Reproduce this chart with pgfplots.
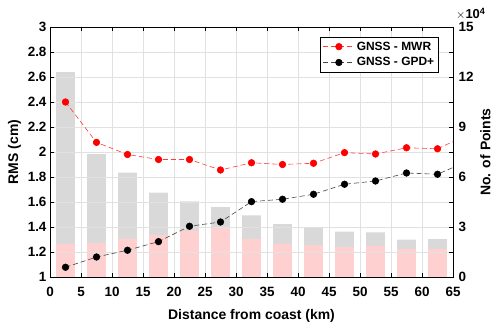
\documentclass[border=0pt]{standalone}
\usepackage{fontspec}
\setmainfont{Liberation Sans}
\usepackage{pgfplots}
\usepackage{pgfplotstable}
\pgfplotsset{compat=1.18}
\usetikzlibrary{calc}

\definecolor{barpink}{RGB}{255,208,208}
\definecolor{bargray}{RGB}{217,217,217}
\definecolor{gridc}{RGB}{225,225,225}
\definecolor{linered}{RGB}{255,60,60}
\definecolor{linegray}{RGB}{70,70,70}

% number of points, in units of 10^4
\pgfplotstableread{
x     total  sub
2.5   12.30  1.98
7.5    7.38  2.04
12.5   6.26  2.30
17.5   5.06  2.52
22.5   4.54  2.78
27.5   4.20  2.93
32.5   3.70  2.28
37.5   3.17  2.00
42.5   2.94  1.92
47.5   2.72  1.80
52.5   2.68  1.88
57.5   2.25  1.67
62.5   2.28  1.67
}\counts

\pgfplotsset{
  common/.style={
    scale only axis, width=403bp, height=250bp,
    xmin=0, xmax=65, xtick={0,5,...,65},
    tick align=inside, major tick length=4bp, minor tick length=4bp,
    tick style={black, line width=0.5pt},
    axis line style={black, line width=0.6pt},
    /pgf/number format/assume math mode=true,
    tick label style={font=\bfseries\fontsize{13.5}{14}\selectfont},
    xticklabel style={yshift=-7bp},
    label style={font=\bfseries\fontsize{14}{15}\selectfont},
  }
}

\begin{document}
\begin{tikzpicture}
\begin{axis}[common, name=A,
  ymin=0, ymax=15, ytick={0,3,...,15}, minor ytick={1.5,4.5,...,13.5},
  ytick pos=right, xtick pos=both, yticklabel pos=right,
  yticklabel style={xshift=2bp},
  grid=both, grid style={gridc, line width=0.5pt}, minor grid style={gridc, line width=0.5pt},
  axis on top,
  xlabel={Distance from coast (km)},
  xlabel style={yshift=-5bp},
  ylabel={No. of Points},
  ylabel style={font=\bfseries\fontsize{14}{15}\selectfont}]
\addplot[ybar, bar width=3, bar shift=0pt, fill=bargray, draw=none] table[x=x, y=total] {\counts};
\addplot[ybar, bar width=3, bar shift=0pt, fill=barpink, draw=none] table[x=x, y=sub] {\counts};
\end{axis}
\begin{axis}[common,
  ymin=1, ymax=3, ytick={1,1.2,...,3.01},
  ytick pos=left, xtick pos=both, xticklabels={},
  ylabel={RMS (cm)},
  legend style={at={(0.965,0.96)}, anchor=north east, draw=black, line width=0.5pt,
    font=\bfseries\fontsize{12}{13}\selectfont, inner sep=2.5pt, row sep=2pt},
  legend cell align=left,
  legend image code/.code={
    \draw[mark repeat=2, mark phase=2] plot coordinates {(0cm,0cm) (0.55cm,0cm) (1.1cm,0cm)};}]
\addplot[linered, dash pattern=on 5bp off 3bp, line width=0.6pt, mark=*, mark size=3.3bp,
  mark options={solid, fill=red, draw=red}] coordinates {
  (2.5,2.40) (7.5,2.077) (12.5,1.98) (17.5,1.94) (22.5,1.94) (27.5,1.856)
  (32.5,1.914) (37.5,1.90) (42.5,1.91) (47.5,1.995) (52.5,1.984)
  (57.5,2.034) (62.5,2.026) (67.5,2.14)};
\addplot[linegray, dash pattern=on 5bp off 3bp, line width=0.6pt, mark=*, mark size=3.3bp,
  mark options={solid, fill=black, draw=black}] coordinates {
  (2.5,1.078) (7.5,1.16) (12.5,1.214) (17.5,1.283) (22.5,1.406) (27.5,1.44)
  (32.5,1.603) (37.5,1.622) (42.5,1.662) (47.5,1.742) (52.5,1.768)
  (57.5,1.832) (62.5,1.822) (67.5,1.93)};
\legend{GNSS - MWR, GNSS - GPD+}
\end{axis}
\node[anchor=south west, inner sep=0, font=\bfseries\fontsize{13}{13}\selectfont]
  at ($(A.north east)+(3bp,7bp)$) {$\times$10\textsuperscript{4}};
\pgfresetboundingbox
\path ($(A.south west)+(-50bp,-51bp)$) rectangle ($(A.north east)+(47bp,27bp)$);
\end{tikzpicture}
\end{document}
